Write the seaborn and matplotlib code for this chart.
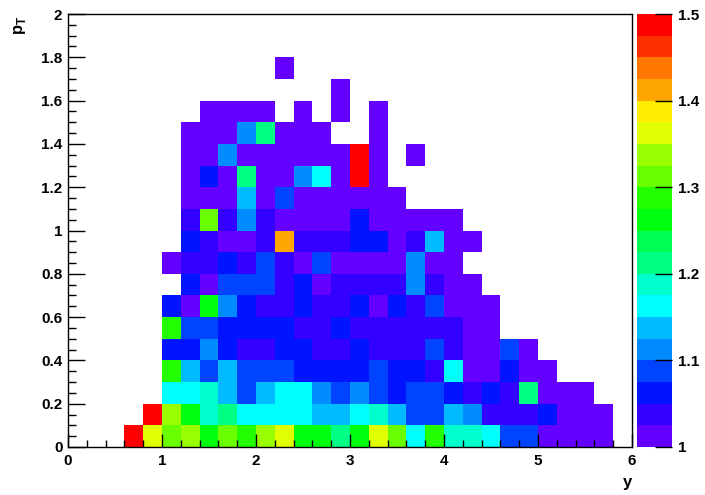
import colorsys
import numpy as np
import pandas as pd
import matplotlib
matplotlib.use("Agg")
import matplotlib.pyplot as plt
from matplotlib.colors import ListedColormap
from matplotlib.ticker import MultipleLocator
import seaborn as sns

n = np.nan

# bin edges: y (rapidity) 0..6 in 0.2 steps, pT 0..2 in 0.1 steps
y_bins = [round(0.2 * i, 1) for i in range(30)]
pt_bins = [round(0.1 * j, 1) for j in range(20)]

# cell values, one list per pT row (row00 = 0.0-0.1 ... row19 = 1.9-2.0)
row00 = [n, n, n, 1.49, 1.36, 1.31, 1.34, 1.26, 1.31, 1.29, 1.34, 1.36, 1.26, 1.26, 1.21,
         1.26, 1.36, 1.31, 1.16, 1.29, 1.19, 1.19, 1.16, 1.09, 1.09, 1.01, 1.01, 1.01, 1.01, n]
row01 = [n, n, n, n, 1.49, 1.34, 1.26, 1.19, 1.21, 1.16, 1.16, 1.16, 1.16, 1.14, 1.14,
         1.16, 1.19, 1.14, 1.09, 1.09, 1.14, 1.11, 1.04, 1.04, 1.04, 1.06, 1.01, 1.01, 1.01, n]
row02 = [n, n, n, n, n, 1.16, 1.16, 1.19, 1.14, 1.09, 1.14, 1.16, 1.16, 1.11, 1.09,
         1.11, 1.09, 1.06, 1.09, 1.09, 1.06, 1.04, 1.06, 1.04, 1.21, 1.01, 1.01, 1.01, n, n]
row03 = [n, n, n, n, n, 1.29, 1.14, 1.09, 1.14, 1.09, 1.09, 1.09, 1.06, 1.06, 1.06,
         1.06, 1.09, 1.06, 1.06, 1.04, 1.16, 1.01, 1.01, 1.06, 1.01, 1.01, n, n, n, n]
row04 = [n, n, n, n, n, 1.06, 1.06, 1.11, 1.06, 1.04, 1.04, 1.06, 1.06, 1.04, 1.04,
         1.06, 1.04, 1.04, 1.04, 1.09, 1.04, 1.01, 1.01, 1.09, 1.01, n, n, n, n, n]
row05 = [n, n, n, n, n, 1.29, 1.09, 1.09, 1.06, 1.06, 1.06, 1.06, 1.04, 1.04, 1.06,
         1.04, 1.04, 1.04, 1.04, 1.04, 1.04, 1.01, 1.01, n, n, n, n, n, n, n]
row06 = [n, n, n, n, n, 1.06, 1.01, 1.26, 1.11, 1.06, 1.04, 1.04, 1.06, 1.04, 1.04,
         1.06, 1.01, 1.06, 1.04, 1.09, 1.01, 1.01, 1.01, n, n, n, n, n, n, n]
row07 = [n, n, n, n, n, n, 1.06, 1.01, 1.09, 1.09, 1.09, 1.04, 1.06, 1.01, 1.04,
         1.04, 1.04, 1.04, 1.11, 1.04, 1.01, 1.01, n, n, n, n, n, n, n, n]
row08 = [n, n, n, n, n, 1.01, 1.04, 1.04, 1.06, 1.04, 1.09, 1.04, 1.01, 1.09, 1.01,
         1.01, 1.01, 1.01, 1.11, 1.01, 1.01, n, n, n, n, n, n, n, n, n]
row09 = [n, n, n, n, n, n, 1.06, 1.04, 1.01, 1.01, 1.04, 1.41, 1.04, 1.04, 1.04,
         1.06, 1.06, 1.01, 1.04, 1.14, 1.01, 1.01, n, n, n, n, n, n, n, n]
row10 = [n, n, n, n, n, n, 1.04, 1.31, 1.04, 1.11, 1.04, 1.01, 1.01, 1.01, 1.01,
         1.06, 1.01, 1.01, 1.01, 1.01, 1.01, n, n, n, n, n, n, n, n, n]
row11 = [n, n, n, n, n, n, 1.01, 1.01, 1.01, 1.14, 1.01, 1.09, 1.01, 1.01, 1.01,
         1.01, 1.01, 1.01, n, n, n, n, n, n, n, n, n, n, n, n]
row12 = [n, n, n, n, n, n, 1.01, 1.06, 1.01, 1.21, 1.01, 1.01, 1.11, 1.16, 1.01,
         1.49, 1.01, n, n, n, n, n, n, n, n, n, n, n, n, n]
row13 = [n, n, n, n, n, n, 1.01, 1.01, 1.11, 1.01, 1.01, 1.01, 1.01, 1.01, 1.01,
         1.49, 1.01, n, 1.01, n, n, n, n, n, n, n, n, n, n, n]
row14 = [n, n, n, n, n, n, 1.01, 1.01, 1.01, 1.11, 1.21, 1.01, 1.01, 1.01, n,
         n, 1.01, n, n, n, n, n, n, n, n, n, n, n, n, n]
row15 = [n, n, n, n, n, n, n, 1.01, 1.01, 1.01, 1.01, n, 1.01, n, 1.01,
         n, 1.01, n, n, n, n, n, n, n, n, n, n, n, n, n]
row16 = [n, n, n, n, n, n, n, n, n, n, n, n, n, n, 1.01,
         n, n, n, n, n, n, n, n, n, n, n, n, n, n, n]
row17 = [n, n, n, n, n, n, n, n, n, n, n, 1.01, n, n, n,
         n, n, n, n, n, n, n, n, n, n, n, n, n, n, n]
row18 = [n] * 30
row19 = [n] * 30

rows = [row00, row01, row02, row03, row04, row05, row06, row07, row08, row09,
        row10, row11, row12, row13, row14, row15, row16, row17, row18, row19]

x_tick_labels = ["0", "1", "2", "3", "4", "5", "6"]
y_tick_labels = ["0", "0.2", "0.4", "0.6", "0.8", "1", "1.2", "1.4", "1.6", "1.8", "2"]
cbar_ticks = [1.0, 1.1, 1.2, 1.3, 1.4, 1.5]
cbar_labels = ["1", "1.1", "1.2", "1.3", "1.4", "1.5"]

# ROOT "pretty" palette (HLS, violet -> red), 20 contour levels
palette = []
for c in range(20):
    idx = int((c + 0.99) * 50 / 20)
    if idx >= 49:
        palette.append((1.0, 0.0, 0.0))
    else:
        hue = 280 - (idx + 1) * (280 / 50)
        palette.append(colorsys.hls_to_rgb(hue / 360.0, 0.5, 1.0))
cmap = ListedColormap(palette)

plt.rcParams['font.family'] = ['Liberation Sans', 'DejaVu Sans']
plt.rcParams['font.weight'] = 'bold'
plt.rcParams['mathtext.fontset'] = 'custom'
plt.rcParams['mathtext.bf'] = 'Liberation Sans:bold'
plt.rcParams['mathtext.rm'] = 'Liberation Sans:bold'

df = pd.DataFrame(rows, index=pt_bins, columns=y_bins)

W, H = 705, 495
fig = plt.figure(figsize=(W / 100, H / 100), dpi=100)
ax = fig.add_axes([68 / W, 48 / H, 564 / W, 433 / H])
cax = fig.add_axes([637 / W, 48 / H, 35 / W, 433 / H])

sns.heatmap(df, ax=ax, cbar_ax=cax, cmap=cmap, vmin=1.0, vmax=1.5,
            xticklabels=False, yticklabels=False, linewidths=0)
ax.invert_yaxis()
ax.set_xlabel("")
ax.set_ylabel("")

for s in ax.spines.values():
    s.set_visible(True)
    s.set_color("black")
    s.set_linewidth(1.0)

ax.set_xticks(np.arange(0, 31, 5))
ax.set_xticklabels(x_tick_labels, fontsize=11, fontweight='bold', rotation=0)
ax.xaxis.set_minor_locator(MultipleLocator(1))
ax.set_yticks(np.arange(0, 21, 2))
ax.set_yticklabels(y_tick_labels, fontsize=11, fontweight='bold', rotation=0)
ax.yaxis.set_minor_locator(MultipleLocator(0.5))
ax.tick_params(which='both', direction='in', top=False, right=False, color='black', width=1)
ax.tick_params(axis='x', which='major', length=9.4, pad=5)
ax.tick_params(axis='x', which='minor', length=4.7)
ax.tick_params(axis='y', which='major', length=12.2, pad=4)
ax.tick_params(axis='y', which='minor', length=6.1)

cbar = ax.collections[0].colorbar
cbar.outline.set_visible(False)
cbar.set_ticks(cbar_ticks)
cbar.set_ticklabels(cbar_labels)
cax.yaxis.set_ticks_position('right')
cax.tick_params(direction='in', length=12, width=1, color='black', labelsize=11, pad=4)
cax.minorticks_off()
for t in cax.get_yticklabels():
    t.set_fontweight('bold')

fig.text(632 / W, 1 - 482 / H, "y", ha='right', va='center', fontsize=12, fontweight='bold')
fig.text(20 / W, 1 - 16 / H, r"$\mathbf{p}_{\mathbf{T}}$", ha='center', va='top',
         rotation=90, fontsize=12)

fig.savefig("out.png", dpi=100)
